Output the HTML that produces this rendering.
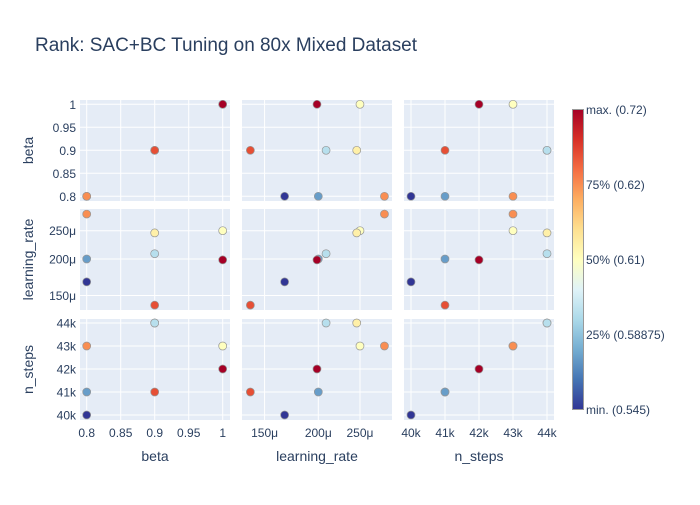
<!DOCTYPE html>
<html><head><meta charset="utf-8"><style>
body{margin:0;background:#fff;}
svg text{font-family:"Liberation Sans",Arial,sans-serif;fill:#2a3f5f;}
</style></head><body>
<svg id="chart" width="700" height="500" viewBox="0 0 700 500">
<defs>
<linearGradient id="cbg" x1="0" y1="1" x2="0" y2="0">
<stop offset="0" stop-color="rgb(49,54,149)"/><stop offset="0.1" stop-color="rgb(69,117,180)"/><stop offset="0.2" stop-color="rgb(116,173,209)"/><stop offset="0.3" stop-color="rgb(171,217,233)"/><stop offset="0.4" stop-color="rgb(224,243,248)"/><stop offset="0.5" stop-color="rgb(255,255,191)"/><stop offset="0.6" stop-color="rgb(254,224,144)"/><stop offset="0.7" stop-color="rgb(253,174,97)"/><stop offset="0.8" stop-color="rgb(244,109,67)"/><stop offset="0.9" stop-color="rgb(215,48,39)"/><stop offset="1" stop-color="rgb(165,0,38)"/>
</linearGradient></defs>
<text x="35" y="51" font-size="19" textLength="382">Rank: SAC+BC Tuning on 80x Mixed Dataset</text>
<g id="panels"></g>
<rect x="572.5" y="109.5" width="11" height="300" fill="url(#cbg)" stroke="#999" stroke-width="1"/>
<g id="cbticks"></g>
</svg>
<script>
const beta=[1,0.9,0.9,0.9,0.8,0.8,0.8,1];
const learningRate=[250e-6,245.7e-6,208.5e-6,139e-6,200e-6,167e-6,285e-6,198.6e-6];
const nSteps=[43000,44000,44000,41000,41000,40000,43000,42000];
const rankScore=[0.61,0.612,0.595,0.66,0.575,0.545,0.62,0.72];
const betaTicks=[0.8,0.85,0.9,0.95,1];
const betaTickLabels=['0.8','0.85','0.9','0.95','1'];
const lrTicks=[150e-6,200e-6,250e-6];
const lrTickLabels=['150μ','200μ','250μ'];
const stepTicks=[40000,41000,42000,43000,44000];
const stepTickLabels=['40k','41k','42k','43k','44k'];
const cbValues=[0.545,0.58875,0.61,0.62,0.72];
const cbLabels=['min. (0.545)','25% (0.58875)','50% (0.61)','75% (0.62)','max. (0.72)'];

const NS='http://www.w3.org/2000/svg';
const cols=[{x0:80,x1:230},{x0:242,x1:392},{x0:404,x1:554}];
const rows=[{y0:100,y1:201},{y0:209,y1:310},{y0:319,y1:420}];
const xFns=[b=>86.7+(b-0.8)*680, l=>318.3+430*Math.log10(l/200e-6), s=>411+(s-40000)*0.034];
const yFns=[b=>196.3-(b-0.8)*460, l=>259-292*Math.log10(l/200e-6), s=>415-(s-40000)*0.023];
const dims=[beta,learningRate,nSteps];
const ticks=[betaTicks,lrTicks,stepTicks];
const tickLabels=[betaTickLabels,lrTickLabels,stepTickLabels];
const names=['beta','learning_rate','n_steps'];
const scale=[[49,54,149],[69,117,180],[116,173,209],[171,217,233],[224,243,248],[255,255,191],[254,224,144],[253,174,97],[244,109,67],[215,48,39],[165,0,38]];
function colorPos(v){for(let i=0;i<cbValues.length-1;i++){if(v<=cbValues[i+1]){return (i+(v-cbValues[i])/(cbValues[i+1]-cbValues[i]))/4;}}return 1;}
function colorFor(v){let p=Math.max(0,Math.min(1,colorPos(v)))*10;let i=Math.min(9,Math.floor(p)),f=p-i;const a=scale[i],b=scale[i+1];return 'rgb('+a.map((c,k)=>Math.round(c+(b[k]-c)*f)).join(',')+')';}
function mk(tag,attrs,parent){const e=document.createElementNS(NS,tag);for(const k in attrs)e.setAttribute(k,attrs[k]);parent.appendChild(e);return e;}
const g=document.getElementById('panels');
for(let r=0;r<3;r++){for(let c=0;c<3;c++){
  const C=cols[c],R=rows[r];
  const bg=mk('rect',{x:C.x0,y:R.y0,width:C.x1-C.x0,height:R.y1-R.y0,fill:'#e5ecf6'},g);
  
  
  ticks[c].forEach(t=>{const x=xFns[c](t);mk('line',{x1:x,x2:x,y1:R.y0,y2:R.y1,stroke:'#fff','stroke-width':1},g);});
  ticks[r].forEach(t=>{const y=yFns[r](t);mk('line',{x1:C.x0,x2:C.x1,y1:y,y2:y,stroke:'#fff','stroke-width':1},g);});
  for(let i=0;i<beta.length;i++){
    const p=mk('circle',{cx:xFns[c](dims[c][i]),cy:yFns[r](dims[r][i]),r:4,fill:colorFor(rankScore[i]),stroke:'rgb(150,150,150)','stroke-width':0.7},g);
    
    
  }
}}
for(let r=0;r<3;r++){
  ticks[r].forEach((t,j)=>{const e=mk('text',{x:76,y:yFns[r](t)+4.5,'font-size':12,'text-anchor':'end'},g);e.textContent=tickLabels[r][j];
  });
  const cy=(rows[r].y0+rows[r].y1)/2;
  const t=mk('text',{x:0,y:0,'font-size':14,'text-anchor':'middle',transform:'translate(33,'+cy+') rotate(-90)'},g);t.textContent=names[r];
  
}
for(let c=0;c<3;c++){
  ticks[c].forEach((t,j)=>{const e=mk('text',{x:xFns[c](t),y:437,'font-size':12,'text-anchor':'middle'},g);e.textContent=tickLabels[c][j];
  });
  const t=mk('text',{x:(cols[c].x0+cols[c].x1)/2,y:461,'font-size':14,'text-anchor':'middle'},g);t.textContent=names[c];
  
}
const cb=document.getElementById('cbticks');
cbLabels.forEach((l,i)=>{const y=409.5-300*i/4;const e=mk('text',{x:586,y:y+4.5,'font-size':12},cb);e.textContent=l;
  });
</script>
</body></html>
